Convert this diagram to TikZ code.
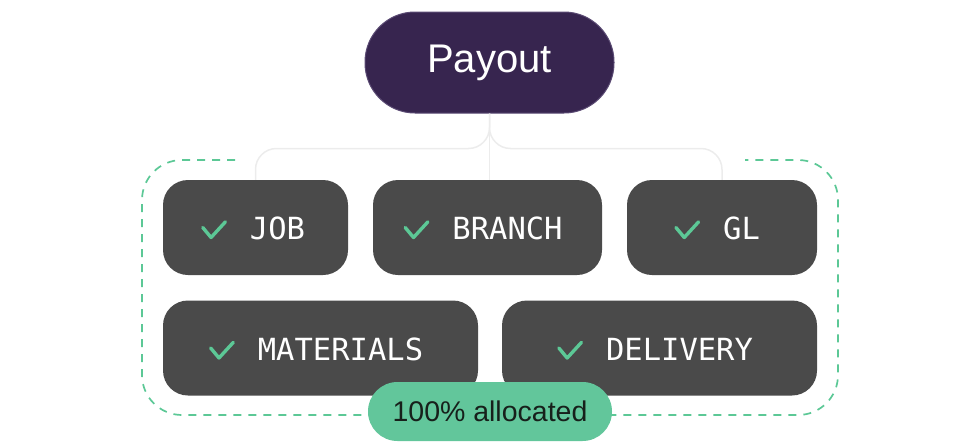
\documentclass[tikz,border=0pt]{standalone}
\usepackage{fontspec}
\setmainfont{Liberation Sans}
\newfontfamily\monof{DejaVu Sans Mono}
\usetikzlibrary{calc}
\definecolor{payfill}{HTML}{37254F}
\definecolor{paydraw}{HTML}{5A4A73}
\definecolor{boxfill}{HTML}{4A4A4A}
\definecolor{okgreen}{HTML}{5CC896}
\definecolor{badgefill}{HTML}{62C69B}
\definecolor{conncol}{HTML}{ECECEC}
\definecolor{badgetext}{HTML}{17201B}
\tikzset{
  conn/.style={draw=conncol, line width=1.5pt, rounded corners=21},
  catbox/.style={fill=boxfill, rounded corners=25, minimum height=95pt, inner sep=0pt},
  cattext/.style={text=white, font=\monof\fontsize{30.5pt}{30.5pt}\selectfont, inner sep=0pt, anchor=center},
  checkmk/.style={draw=okgreen, line width=3.4pt, line cap=round, line join=round},
  frame/.style={draw=okgreen, line width=1.7pt, dash pattern=on 8pt off 7pt, rounded corners=40},
}
\begin{document}
\begin{tikzpicture}[x=1pt,y=-1pt]
\useasboundingbox (0,0) rectangle (980,442);
% Payout
\node[fill=payfill, draw=paydraw, line width=1pt, rounded corners=50, minimum width=249pt, minimum height=101pt, inner sep=0pt,
      text=white, font=\fontsize{40pt}{40pt}\selectfont] (payout) at (489.5,62.5) {Payout};
% boxes
\node[catbox, minimum width=185pt] (job) at (255.5,227.5) {};
\node[catbox, minimum width=229pt] (branch) at (487.5,227.5) {};
\node[catbox, minimum width=190pt] (gl) at (722,227.5) {};
\node[catbox, minimum width=315pt] (mat) at (320.5,348) {};
\node[catbox, minimum width=315pt] (del) at (659.5,348) {};
% connectors
\draw[conn] (payout.south) -- ++(0,35) -| (job.north);
\draw[conn] (payout.south) -- ++(0,35) -| (gl.north);
\draw[conn] (payout.south) -- (payout.south |- branch.north);
% dashed frame
\draw[frame] (235,160) -- (142,160) -- (142,415) -- (838,415) -- (838,160) -- (745,160);
% labels
\node[cattext] (jobt) at ($(job.center)+(22,1)$) {JOB};
\node[cattext] (brt) at ($(branch.center)+(20,1)$) {BRANCH};
\node[cattext] (glt) at ($(gl.center)+(19.5,1)$) {GL};
\node[cattext] (matt) at ($(mat.center)+(20,1)$) {MATERIALS};
\node[cattext] (delt) at ($(del.center)+(20,1)$) {DELIVERY};
\foreach \t in {jobt,brt,glt,matt,delt}{
  \draw[checkmk] ($(\t.west)+(-47,-1)$) -- ++(8.3,10) -- ++(14.3,-15.6);
}
% badge
\node[fill=badgefill, rounded corners=29.5, minimum width=244pt, minimum height=59pt, inner sep=0pt,
      text=badgetext, font=\fontsize{28.5pt}{28.5pt}\selectfont] (badge) at (490,411.5) {100\% allocated};
\end{tikzpicture}
\end{document}
